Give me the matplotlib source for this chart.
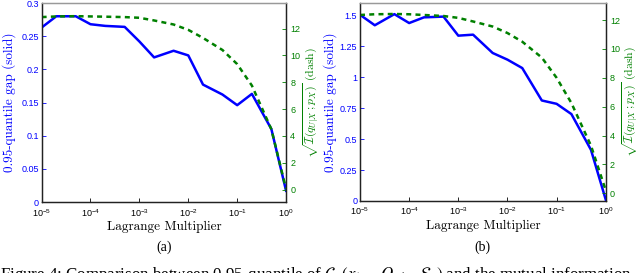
import matplotlib
matplotlib.use('Agg')
import matplotlib.pyplot as plt

# data
lam = [1e-5, 2e-5, 5e-5, 1e-4, 2e-4, 5e-4, 1e-3, 2e-3, 5e-3,
       1e-2, 2e-2, 5e-2, 0.1, 0.2, 0.5, 1.0]

gap_a = [0.263, 0.280, 0.280, 0.268, 0.2655, 0.264, 0.242, 0.218, 0.228,
         0.221, 0.177, 0.162, 0.146, 0.163, 0.110, 0.017]
mi_a = [12.85, 12.90, 12.92, 12.90, 12.88, 12.85, 12.80, 12.60, 12.30,
        11.90, 11.30, 10.40, 9.35, 7.75, 4.50, 0.05]

gap_b = [1.505, 1.420, 1.510, 1.438, 1.484, 1.490, 1.336, 1.344, 1.196,
         1.142, 1.074, 0.812, 0.785, 0.702, 0.413, 0.010]
mi_b = [12.35, 12.40, 12.42, 12.40, 12.35, 12.28, 12.15, 11.90, 11.55,
        11.10, 10.50, 9.40, 8.00, 6.25, 3.30, 0.20]

xticks = [1e-5, 1e-4, 1e-3, 1e-2, 1e-1, 1e0]
ticks_a = [0, 0.05, 0.1, 0.15, 0.2, 0.25, 0.3]
ticklbl_a = ['0', '0.05', '0.1', '0.15', '0.2', '0.25', '0.3']
ticks_b = [0, 0.25, 0.5, 0.75, 1.0, 1.25, 1.5]
ticklbl_b = ['0', '0.25', '0.5', '0.75', '1', '1.25', '1.5']
ticks_r = [0, 2, 4, 6, 8, 10, 12]

blue = '#0000FF'
green = '#008000'
tick_size = 6.5
lbl_size = 9.5

plt.rcParams.update({'font.family': 'Liberation Sans', 'font.size': tick_size})


def panel(fig, rect, gap, mi, yticks, ylabels, ylim_l, ylim_r, tag, lpad):
    ax = fig.add_axes(rect)
    ax2 = ax.twinx()

    ax.plot(lam, gap, '-', color=blue, linewidth=1.8, zorder=3)
    ax2.plot(lam, mi, color=green, linewidth=1.8, linestyle=(0, (2.0, 1.7)))

    ax.set_xscale('log')
    ax.set_xlim(1e-5, 1)
    ax.set_xticks(xticks)
    ax.minorticks_off()
    ax.set_ylim(ylim_l)
    ax.set_yticks(yticks)
    ax.set_yticklabels(ylabels)
    ax2.set_ylim(ylim_r)
    ax2.set_yticks(ticks_r)
    ax2.minorticks_off()

    ax.tick_params(axis='both', direction='in', length=3, width=0.6, pad=2)
    ax.tick_params(axis='x', pad=3.5)
    ax.tick_params(axis='y', colors=blue)
    ax.tick_params(axis='x', colors='black')
    ax2.tick_params(axis='y', direction='in', length=3, width=0.6, pad=3,
                    colors=green)

    for a in (ax, ax2):
        for s in a.spines.values():
            s.set_linewidth(0.9)
            s.set_color('#222222')
        a.spines['top'].set_color('#999999')
    ax.patch.set_visible(False)

    ax.set_xlabel('Lagrange Multiplier', fontfamily='cmr10',
                  fontsize=lbl_size, labelpad=2)
    ax.set_ylabel('0.95-quantile gap (solid)', fontfamily='cmr10',
                  fontsize=lbl_size, color=blue, labelpad=lpad)
    ax2.set_ylabel(r'$\sqrt{\mathcal{I}(q_{U|X}\,;p_X)}$ (dash)',
                   fontfamily='cmr10', math_fontfamily='cm',
                   fontsize=8.5, color=green, labelpad=0.5)

    cx = rect[0] + rect[2] / 2
    fig.text(cx, 0.095, tag, ha='center', va='center',
             fontfamily='Liberation Serif', fontsize=10)
    return ax


fig = plt.figure(figsize=(6.4, 2.73), dpi=100)

panel(fig, [0.065, 0.26, 0.382, 0.729], gap_a, mi_a, ticks_a, ticklbl_a,
      (0, 0.3), (-0.92, 13.9), '(a)', 4)
panel(fig, [0.5625, 0.264, 0.384, 0.725], gap_b, mi_b, ticks_b, ticklbl_b,
      (0, 1.6), (-0.53, 13.18), '(b)', 2)

fig.text(0.0, -0.022,
         r'Figure 4: Comparison between 0.95-quantile of '
         r'$\mathcal{G}_n(x_{1:n},Q_{U|X},\mathcal{S}_n)$ and the mutual information',
         ha='left', va='baseline', fontfamily='Liberation Serif',
         math_fontfamily='stix', fontsize=12.2)

fig.savefig('out.png', dpi=100)
